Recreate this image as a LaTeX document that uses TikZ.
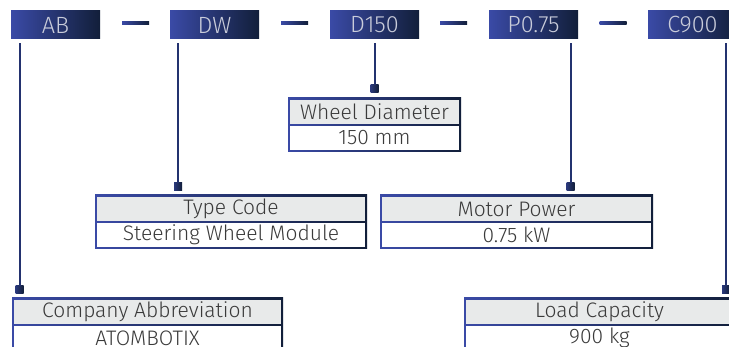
\documentclass[tikz,border=0pt]{standalone}
\usepackage{fontspec}
\setmainfont{Fira Sans}[UprightFont={* Light}]
\usetikzlibrary{positioning}
\definecolor{codeblue}{HTML}{3A4AA6}
\definecolor{codenavy}{HTML}{121F3A}
\definecolor{codetext}{HTML}{C9CCDA}
\definecolor{hdrgray}{HTML}{E8EAEA}
\definecolor{txtgray}{HTML}{3A3A3A}
\definecolor{linenavy}{HTML}{23326F}

\begin{document}
\begin{tikzpicture}[x=1pt, y=-1pt]

\tikzstyle{code}=[rectangle, minimum width=89pt, minimum height=28pt, inner sep=0pt, left color=codeblue, right color=codenavy, text=codetext, font=\fontsize{23.5}{23.5}\selectfont]
\tikzstyle{dashbar}=[rectangle, minimum width=27pt, minimum height=3pt, inner sep=0pt, left color=codeblue, right color=codenavy]
\tikzstyle{marker}=[rectangle, minimum size=8pt, inner sep=0pt, left color=codeblue!60!codenavy, right color=codenavy]
\tikzstyle{hdr}=[rectangle, minimum height=24pt, inner sep=0pt, fill=hdrgray, text=txtgray, font=\fontsize{21}{21}\selectfont]
\tikzstyle{body}=[rectangle, minimum height=24pt, inner sep=0pt, fill=white, text=txtgray, font=\fontsize{21}{21}\selectfont]
\tikzstyle{frame}=[left color=codeblue, right color=codenavy]
\tikzstyle{connect}=[line width=2pt, draw=linenavy]

\useasboundingbox (0,0) rectangle (729,347);

% codes
\node[code] (ab) at (55.5,25) {AB};
\node[code] (dw) at (214.5,25) {DW};
\node[code] (dia) at (374.5,25) {D150};
\node[code] (pow) at (533.5,25) {P0.75};
\node[code] (cap) at (692.5,25) {C900};

\node[dashbar] (d1) at (135.5,23) {};
\node[dashbar] (d2) at (294.5,23) {};
\node[dashbar] (d3) at (453.5,23) {};
\node[dashbar] (d4) at (613,23) {};

% markers
\node[marker] (mab) at (19.5,290) {};
\node[marker] (mdw) at (178,187) {};
\node[marker] (mdia) at (374.5,89) {};
\node[marker] (mpow) at (570.5,187) {};
\node[marker] (mcap) at (726,290) {};

\draw[connect] (mab |- ab.south) ++(0,4) -- (mab);
\draw[connect] (mdw |- dw.south) ++(0,4) -- (mdw);
\draw[connect] (mdia |- dia.south) ++(0,4) -- (mdia);
\draw[connect] (mpow |- pow.south) ++(0,4) -- (mpow);
\draw[connect] (mcap |- cap.south) ++(0,4) -- (mcap);

% info boxes
\shade[frame] (288,98) rectangle (461,152);
\node[hdr, minimum width=169pt] (diah) at (374.5,112) {Wheel Diameter};
\node[body, minimum width=169pt] (diab) at (374.5,138) {150 mm};

\shade[frame] (95,195) rectangle (367,249);
\node[hdr, minimum width=268pt] (dwh) at (231,209) {Type Code};
\node[body, minimum width=268pt] (dwb) at (231,235) {Steering Wheel Module};

\shade[frame] (380,195) rectangle (653,249);
\node[hdr, minimum width=269pt] (powh) at (516.5,209) {Motor Power};
\node[body, minimum width=269pt] (powb) at (516.5,235) {0.75 kW};

\shade[frame] (12,298) rectangle (283,352);
\node[hdr, minimum width=267pt] (abh) at (147.5,312) {Company Abbreviation};
\node[body, minimum width=267pt] (abb) at (147.5,338) {ATOMBOTIX};

\shade[frame] (464,298) rectangle (735,352);
\node[hdr, minimum width=267pt] (caph) at (599.5,312) {Load Capacity};
\node[body, minimum width=267pt] (capb) at (599.5,338) {900 kg};

\end{tikzpicture}
\end{document}
